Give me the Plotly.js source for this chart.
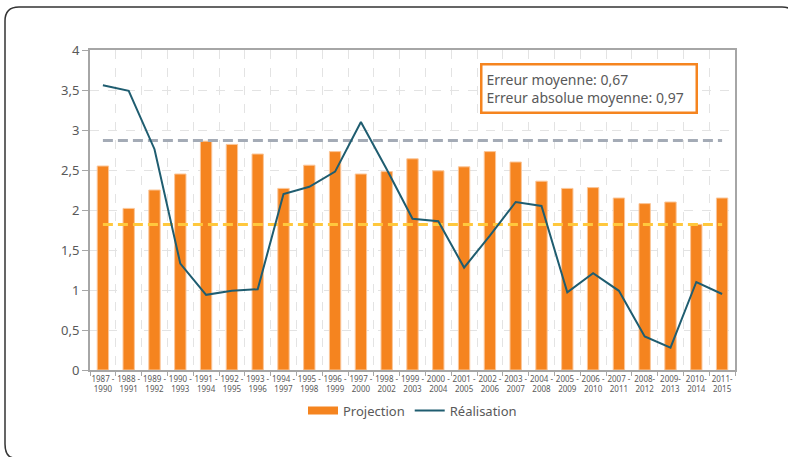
<!DOCTYPE html>
<html>
<head>
<meta charset="utf-8">
<script src="https://cdn.plot.ly/plotly-3.0.1.min.js"></script>
<style>
  html, body { margin: 0; padding: 0; background: #ffffff; overflow: hidden; }
  #chart { width: 788px; height: 457px; }
</style>
</head>
<body>
<div id="chart"></div>
<script>
const categories = [
  "1987 -<br>1990", "1988 -<br>1991", "1989 -<br>1992", "1990 -<br>1993", "1991 -<br>1994",
  "1992 -<br>1995", "1993 -<br>1996", "1994 -<br>1997", "1995 -<br>1998", "1996 -<br>1999",
  "1997 -<br>2000", "1998 -<br>2002", "1999 -<br>2003", "2000 -<br>2004", "2001 -<br>2005",
  "2002 -<br>2006", "2003 -<br>2007", "2004 -<br>2008", "2005 -<br>2009", "2006 -<br>2010",
  "2007 -<br>2011", "2008-<br>2012", "2009-<br>2013", "2010-<br>2014", "2011-<br>2015"
];
const projection = [2.55, 2.02, 2.25, 2.45, 2.86, 2.82, 2.70, 2.27, 2.56, 2.73,
                    2.45, 2.48, 2.64, 2.49, 2.54, 2.73, 2.60, 2.36, 2.27, 2.28,
                    2.15, 2.08, 2.10, 1.82, 2.15];
const realisation = [3.56, 3.49, 2.76, 1.33, 0.94, 0.99, 1.01, 2.20, 2.29, 2.48,
                     3.10, 2.51, 1.89, 1.86, 1.28, 1.68, 2.10, 2.05, 0.97, 1.21,
                     0.99, 0.42, 0.28, 1.10, 0.95];
const meanRealisation = 2.87;
const meanProjection = 1.82;
const annotationLines = ["Erreur moyenne: 0,67", "Erreur absolue moyenne: 0,97"];

const orange = "#f5841f";
const teal = "#1f5d70";
const fontFam = "Noto Sans, Open Sans, sans-serif";

const traces = [
  {
    type: "bar", x: categories, y: projection, name: "Projection",
    marker: { color: orange, line: { color: "#fbc699", width: 1 } },
    showlegend: false, hoverinfo: "skip"
  },
  {
    type: "scatter", mode: "lines", x: categories,
    y: categories.map(() => meanRealisation),
    line: { color: "#a4abb6", width: 3, dash: "10px,5px" },
    showlegend: false, hoverinfo: "skip"
  },
  {
    type: "scatter", mode: "lines", x: categories,
    y: categories.map(() => meanProjection),
    line: { color: "#ffc83d", width: 3, dash: "10px,5px" },
    showlegend: false, hoverinfo: "skip"
  },
  {
    type: "scatter", mode: "lines", x: [null], y: [null], name: "Projection",
    line: { color: orange, width: 8 }, showlegend: true
  },
  {
    type: "scatter", mode: "lines", x: categories, y: realisation, name: "Réalisation",
    line: { color: teal, width: 2 }
  }
];

const layout = {
  width: 788, height: 457,
  margin: { l: 90, r: 53, t: 50, b: 87 },
  paper_bgcolor: "#ffffff", plot_bgcolor: "#ffffff",
  font: { family: fontFam, color: "#595959" },
  separators: ", ",
  bargap: 0.56,
  showlegend: true,
  legend: {
    orientation: "h", x: 0.5, xanchor: "center", y: -0.08, yanchor: "top",
    font: { size: 13, color: "#595959" }, traceorder: "normal",
    itemwidth: 30
  },
  xaxis: {
    type: "category",
    tickson: "boundaries",
    showline: true, linecolor: "#a6a6a6", linewidth: 2, mirror: true,
    showgrid: true, gridcolor: "#e3e3e3", griddash: "dash", gridwidth: 1,
    ticks: "outside", ticklen: 4, tickcolor: "#a6a6a6",
    tickfont: { size: 8, color: "#595959" },
    tickangle: 0,
    fixedrange: true
  },
  yaxis: {
    range: [0, 4], dtick: 0.5,
    showline: true, linecolor: "#a6a6a6", linewidth: 2, mirror: true,
    showgrid: true, gridcolor: "#e3e3e3", griddash: "dash", gridwidth: 1,
    ticks: "outside", ticklen: 6, tickcolor: "#a6a6a6",
    tickfont: { size: 13, color: "#595959" },
    zeroline: false, fixedrange: true
  },
  annotations: [{
    xref: "paper", yref: "paper",
    x: 0.6047, y: 0.959, xanchor: "left", yanchor: "top",
    text: annotationLines.join("<br>"),
    showarrow: false, align: "left",
    width: 205, height: 38,
    font: { size: 14, color: "#595959", family: fontFam },
    bordercolor: orange, borderwidth: 2.5, borderpad: 4,
    bgcolor: "#ffffff"
  }],
  shapes: [{
    type: "path", xref: "paper", yref: "paper",
    path: "M -0.11628,-0.275 Q -0.13178,-0.275 -0.13178,-0.23125 L -0.13178,1.090625 " +
          "Q -0.13178,1.134375 -0.11008,1.134375 L 1.07287,1.134375 Q 1.09457,1.134375 1.09457,1.090625",
    line: { color: "#333333", width: 1.5 },
    fillcolor: "rgba(0,0,0,0)", layer: "below"
  }]
};

Plotly.newPlot("chart", traces, layout, { displayModeBar: false, staticPlot: true });
</script>
</body>
</html>
